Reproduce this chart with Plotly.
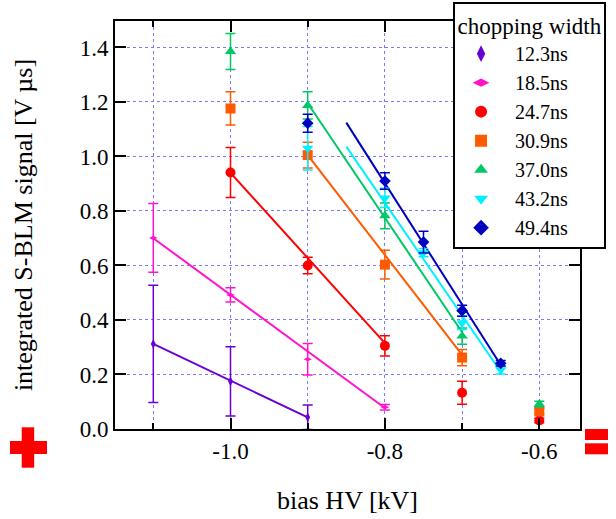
import plotly.graph_objects as go

# ---- data ----
labels = ["12.3ns", "18.5ns", "24.7ns", "30.9ns", "37.0ns", "43.2ns", "49.4ns"]
colors = ["#6a00d4", "#ff14cc", "#ff0000", "#ff5a00", "#00c864", "#00f0ff", "#0000c0"]
symbols = ["diamond-tall", "diamond-wide", "circle", "square", "triangle-up", "triangle-down", "diamond"]
msizes = [7, 6, 10, 10, 10, 10, 9]

x_12 = [-1.1, -1.0, -0.9]
y_12 = [0.312, 0.175, 0.043]
e_12 = [0.215, 0.127, 0.045]

x_18 = [-1.1, -1.0, -0.9, -0.8]
y_18 = [0.701, 0.492, 0.256, 0.080]
e_18 = [0.126, 0.026, 0.058, 0.010]

x_24 = [-1.0, -0.9, -0.8, -0.7, -0.6]
y_24 = [0.941, 0.600, 0.305, 0.133, 0.031]
e_24 = [0.092, 0.030, 0.037, 0.042, 0.008]

x_30 = [-1.0, -0.9, -0.8, -0.7, -0.6]
y_30 = [1.176, 1.005, 0.603, 0.262, 0.064]
e_30 = [0.061, 0.047, 0.053, 0.030, 0.010]

x_37 = [-1.0, -0.9, -0.8, -0.7, -0.6]
y_37 = [1.385, 1.187, 0.782, 0.341, 0.092]
e_37 = [0.066, 0.050, 0.047, 0.030, 0.010]

x_43 = [-0.9, -0.8, -0.75, -0.7, -0.65]
y_43 = [1.030, 0.848, 0.647, 0.390, 0.217]
e_43 = [0.080, 0.035, 0.015, 0.025, 0.015]

x_49 = [-0.9, -0.8, -0.75, -0.7, -0.65]
y_49 = [1.122, 0.910, 0.686, 0.434, 0.241]
e_49 = [0.033, 0.030, 0.040, 0.020, 0.010]

# linear fit lines: start/end points per series
fit_x0 = [-1.1, -1.1, -1.0, -0.9, -0.9, -0.85, -0.85]
fit_y0 = [0.312, 0.700, 0.940, 1.005, 1.195, 1.036, 1.124]
fit_x1 = [-0.9, -0.8, -0.8, -0.7, -0.7, -0.65, -0.65]
fit_y1 = [0.043, 0.077, 0.315, 0.272, 0.355, 0.210, 0.235]

x_tickvals = [-1.0, -0.8, -0.6]
x_ticktext = ["-1.0", "-0.8", "-0.6"]
y_tickvals = [0.0, 0.2, 0.4, 0.6, 0.8, 1.0, 1.2, 1.4]
y_ticktext = ["0.0", "0.2", "0.4", "0.6", "0.8", "1.0", "1.2", "1.4"]

xs = [x_12, x_18, x_24, x_30, x_37, x_43, x_49]
ys = [y_12, y_18, y_24, y_30, y_37, y_43, y_49]
es = [e_12, e_18, e_24, e_30, e_37, e_43, e_49]

FONT = "Liberation Serif, Times New Roman, serif"
PAD = "\u00a0\u00a0\u2009"  # spacing between legend symbol and label
fig = go.Figure()

for i in range(len(labels)):
    fig.add_trace(go.Scatter(
        x=[fit_x0[i], fit_x1[i]], y=[fit_y0[i], fit_y1[i]],
        mode="lines", line=dict(color=colors[i], width=2),
        showlegend=False, hoverinfo="skip"))

for i in range(len(labels)):
    fig.add_trace(go.Scatter(
        x=xs[i], y=ys[i], mode="markers", name=PAD + labels[i],
        marker=dict(symbol=symbols[i], size=msizes[i], color=colors[i], line=dict(width=0)),
        error_y=dict(type="data", array=es[i], visible=True, color=colors[i],
                     thickness=1.5, width=5)))

grid_color = "#7a7aff"
fig.update_layout(
    width=616, height=519,
    margin=dict(l=115, r=36, t=21, b=90, autoexpand=False),
    paper_bgcolor="white", plot_bgcolor="white",
    font=dict(family=FONT, size=23, color="black"),
    showlegend=True,
    legend=dict(
        x=0.727, xanchor="left", y=1.046, yanchor="top",
        bgcolor="white", bordercolor="black", borderwidth=2,
        font=dict(family=FONT, size=20, color="black"),
        title=dict(text="chopping width", side="top center",
                   font=dict(family=FONT, size=23, color="black")),
        itemsizing="constant", indentation=6,
        maxheight=600,
    ),
    xaxis=dict(
        range=[-1.1496, -0.5473],
        tickmode="array", tickvals=x_tickvals, ticktext=x_ticktext,
        ticks="inside", ticklen=11, tickwidth=2, tickcolor="black",
        showline=True, linecolor="black", linewidth=2, mirror="allticks",
        showgrid=True, gridcolor=grid_color, griddash="dot", gridwidth=1,
        zeroline=False,
        minor=dict(dtick=0.1, tick0=-1.0, ticks="inside", ticklen=6, tickwidth=2,
                   tickcolor="black", showgrid=True, gridcolor=grid_color,
                   griddash="dot", gridwidth=1),
        title=dict(text="bias HV [kV]", font=dict(family=FONT, size=26), standoff=28),
        tickfont=dict(family=FONT, size=23),
        automargin=False,
    ),
    yaxis=dict(
        range=[0, 1.497],
        tickmode="array", tickvals=y_tickvals, ticktext=y_ticktext,
        ticks="inside", ticklen=11, tickwidth=2, tickcolor="black",
        showline=True, linecolor="black", linewidth=2, mirror="allticks",
        showgrid=True, gridcolor=grid_color, griddash="dot", gridwidth=1,
        zeroline=False,
        title=dict(text="integrated S-BLM signal [V µs]", font=dict(family=FONT, size=26), standoff=40),
        tickfont=dict(family=FONT, size=23),
        automargin=False,
    ),
)

red = "#ff0000"
def pshape(x0, x1, y0, y1):
    fig.add_shape(type="rect", xref="paper", yref="paper", x0=x0, x1=x1, y0=y0, y1=y1,
                  fillcolor=red, line=dict(width=0), layer="above")

# plus sign (bottom-left) and equals sign (bottom-right), paper coords
pshape(-0.2258, -0.1462, -0.0613, -0.0294)
pshape(-0.2006, -0.1738, -0.0949, 0.0042)
pshape(1.0108, 1.0602, -0.0270, 0.0)
pshape(1.0108, 1.0602, -0.0620, -0.0350)

fig.write_html("out.html")
